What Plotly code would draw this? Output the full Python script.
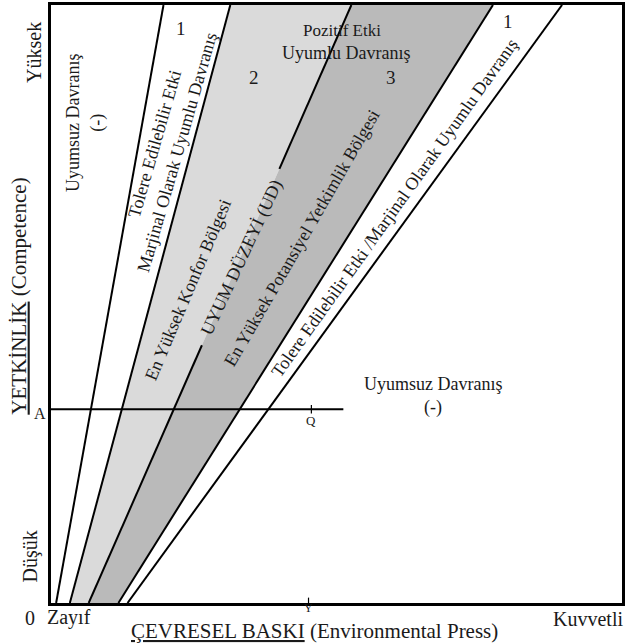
import plotly.graph_objects as go

# ---- data (coordinates in a 0..100 abstract space) ----
line_names = ["L1", "L2", "L3_UD", "L4", "L5"]
line_bottom_x = [0.9, 3.3, 6.6, 11.8, 13.4]
line_top_x = [19.7, 31.4, 52.6, 77.4, 89.5]
ud_gap = [43.1, 72.6]          # y-range where the UD line is hidden by its label
a_level = 32.4                 # competence level A
a_line_end = 51.2
q_x = 45.6
y_x = 45.1

light_gray = "#dadada"
dark_gray = "#bababa"
FONT = "Liberation Serif"
TXT = "#1a1a1a"

fig = go.Figure()

def x_at(i, y):
    return line_bottom_x[i] + (line_top_x[i] - line_bottom_x[i]) * y / 100.0

# bands
fig.add_trace(go.Scatter(
    x=[line_bottom_x[1], line_bottom_x[2], line_top_x[2], line_top_x[1]],
    y=[0, 0, 100, 100], fill="toself", fillcolor=light_gray,
    line=dict(width=0), mode="lines", hoverinfo="skip", showlegend=False))
fig.add_trace(go.Scatter(
    x=[line_bottom_x[2], line_bottom_x[3], line_top_x[3], line_top_x[2]],
    y=[0, 0, 100, 100], fill="toself", fillcolor=dark_gray,
    line=dict(width=0), mode="lines", hoverinfo="skip", showlegend=False))

# boundary lines
for i, name in enumerate(line_names):
    if name == "L3_UD":
        xs = [line_bottom_x[i], x_at(i, ud_gap[0]), None, x_at(i, ud_gap[1]), line_top_x[i]]
        ys = [0, ud_gap[0], None, ud_gap[1], 100]
    else:
        xs = [line_bottom_x[i], line_top_x[i]]
        ys = [0, 100]
    fig.add_trace(go.Scatter(x=xs, y=ys, mode="lines",
                             line=dict(color="black", width=2),
                             hoverinfo="skip", showlegend=False))

# A line and ticks
fig.add_trace(go.Scatter(x=[0, a_line_end], y=[a_level, a_level], mode="lines",
                         line=dict(color="black", width=2), hoverinfo="skip",
                         showlegend=False, cliponaxis=False))
fig.add_trace(go.Scatter(x=[q_x, q_x], y=[a_level - 0.7, a_level + 0.7], mode="lines",
                         line=dict(color="black", width=1.2), hoverinfo="skip",
                         showlegend=False, cliponaxis=False))
fig.add_trace(go.Scatter(x=[y_x, y_x], y=[-0.5, 0.9], mode="lines",
                         line=dict(color="black", width=1.2), hoverinfo="skip",
                         showlegend=False, cliponaxis=False))

ann = []
def A(text, x, y, size=18, angle=0, ref="data", **kw):
    d = dict(text=text, x=x, y=y, showarrow=False, textangle=angle,
             xanchor="center", yanchor="middle",
             font=dict(family=FONT, size=size, color=TXT))
    if ref == "paper":
        d.update(xref="paper", yref="paper")
    else:
        d.update(xref="x", yref="y")
    d.update(kw)
    ann.append(d)

# inside texts
A("Uyumsuz Davranış", 3.9, 80.3, angle=-90)
A("(-)", 8.2, 80.3, angle=-90)
A("1", 22.8, 96.0, size=19)
A("Tolere Edilebilir Etki", 18.1, 76.8, angle=-74)
A("Marjinal Olarak Uyumlu Davranış", 22.0, 75.3, angle=-74)
A("2", 35.5, 87.8, size=19)
A("Pozitif Etki", 51.0, 95.8, size=17)
A("Uyumlu Davranış", 51.6, 92.0)
A("3", 59.6, 87.8, size=19)
A("1", 80.0, 97.3, size=19)
A("En Yüksek Konfor Bölgesi", 24.0, 52.3, angle=-67)
A("UYUM DÜZEYİ (UD)", 33.4, 57.8, angle=-65)
A("En Yüksek Potansiyel Yetkimlik Bölgesi", 43.9, 61.1, angle=-60)
A("Tolere Edilebilir Etki /Marjinal Olarak Uyumlu Davranış", 60.1, 66.1, angle=-54.5)
A("Uyumsuz Davranış", 66.9, 36.7)
A("(-)", 66.9, 32.7)
A("Q", q_x, a_level - 1.9, size=13)

# outside texts (paper coords)
A("Yüksek", -0.0296, 0.92, size=20, angle=-90, ref="paper")
A("<u>YETKİNLİK</u> (Competence)", -0.0575, 0.5125, size=21, angle=-90, ref="paper")
A("Düşük", -0.0366, 0.078, size=20, angle=-90, ref="paper")
A("A", -0.019, 0.317, size=16, ref="paper")
A("0", -0.0366, -0.025, size=20, ref="paper")
A("Zayıf", 0.032, -0.025, size=20, ref="paper")
A("<u>ÇEVRESEL BASKI</u> (Environmental Press)", 0.461, -0.047, size=21, ref="paper")
A("Kuvvetli", 0.941, -0.027, size=20, ref="paper")
A("Y", 0.451, -0.009, size=12, ref="paper")

axis_common = dict(range=[0, 100], showgrid=False, zeroline=False, showticklabels=False,
                   ticks="", showline=True, linecolor="black", linewidth=2.5, mirror=True,
                   fixedrange=True)
fig.update_layout(
    width=627, height=643,
    margin=dict(l=51, r=2, t=4, b=40),
    paper_bgcolor="white", plot_bgcolor="white",
    xaxis=axis_common, yaxis=axis_common,
    annotations=ann, showlegend=False,
)
fig.write_html("out.html", config={"displayModeBar": False},
               post_script="document.body.style.margin='0';document.body.style.overflow='hidden';")
